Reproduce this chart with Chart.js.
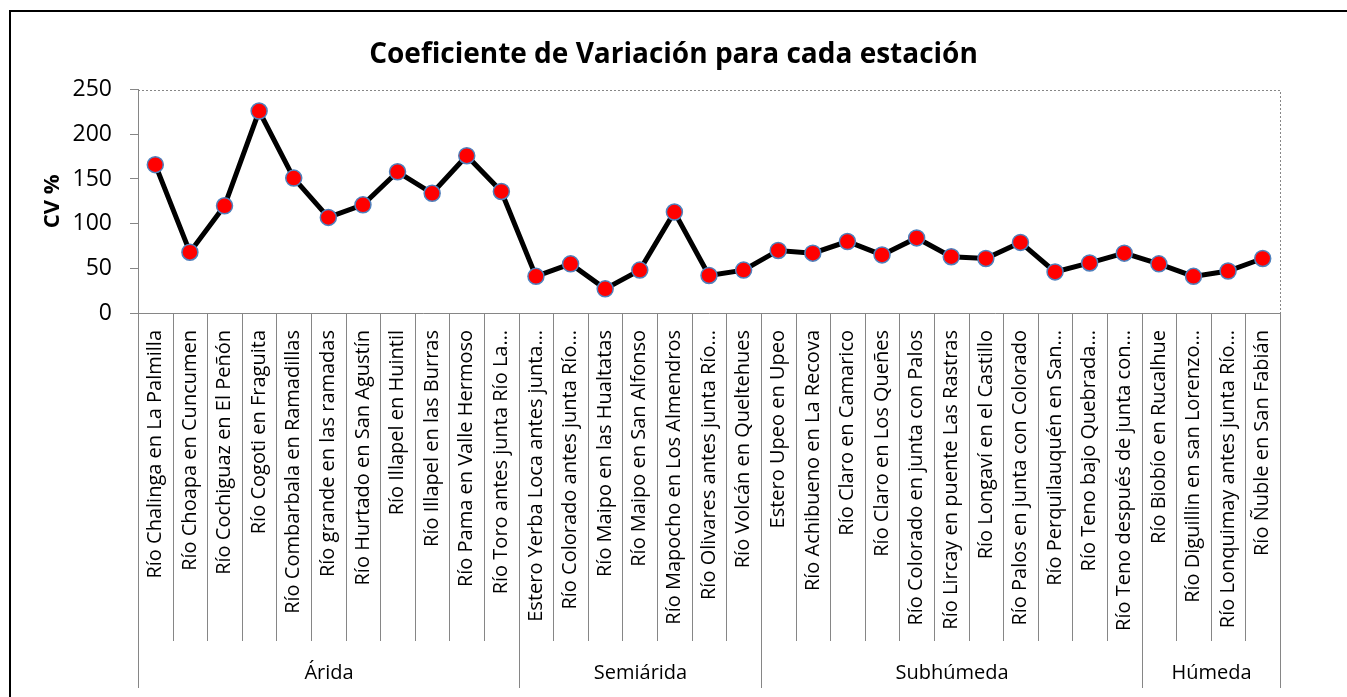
<!DOCTYPE html>
<html>
<head>
<meta charset="utf-8">
<script src="https://cdn.jsdelivr.net/npm/chart.js@4.4.1/dist/chart.umd.min.js"></script>
<style>
  body { margin: 0; background: #fff; }
  .chart-box { width: 1347px; height: 697px; position: relative; }
</style>
</head>
<body>
<div class="chart-box"><canvas id="cvChart"></canvas></div>
<script>
const stations = [
    'Río Chalinga en La Palmilla', 'Río Choapa en Cuncumen', 'Río Cochiguaz en El Peñón',
    'Río Cogoti en Fraguita', 'Río Combarbala en Ramadillas', 'Río grande en las ramadas',
    'Río Hurtado en San Agustín', 'Río Illapel en Huintil', 'Río Illapel en las Burras',
    'Río Pama en Valle Hermoso', 'Río Toro antes junta Río La…',
    'Estero Yerba Loca antes junta…', 'Río Colorado antes junta Río…', 'Río Maipo en las Hualtatas',
    'Río Maipo en San Alfonso', 'Río Mapocho en Los Almendros', 'Río Olivares antes junta Río…',
    'Río Volcán en Queltehues',
    'Estero Upeo en Upeo', 'Río Achibueno en La Recova', 'Río Claro en Camarico',
    'Río Claro en Los Queñes', 'Río Colorado en junta con Palos', 'Río Lircay en puente Las Rastras',
    'Río Longaví en el Castillo', 'Río Palos en junta con Colorado', 'Río Perquilauquén en San…',
    'Río Teno bajo Quebrada…', 'Río Teno después de junta con…',
    'Río Biobío en Rucalhue', 'Río Diguillin en san Lorenzo…', 'Río Lonquimay antes junta Río…',
    'Río Ñuble en San Fabián'
];

const cvValues = [
    166, 68, 120, 226, 151, 107, 121, 158, 134, 176, 136,
    41, 55, 27, 48, 113, 42, 48,
    70, 67, 80, 65, 84, 63, 61, 79, 46, 56, 67,
    55, 41, 47, 61
];

const groups = ['Árida', 'Semiárida', 'Subhúmeda', 'Húmeda'];
const groupSizes = [11, 7, 11, 4];

const yTicks = [0, 50, 100, 150, 200, 250];

const gray = '#868686';
const font = '"Open Sans", "DejaVu Sans", sans-serif';

// draws the frame, dotted plot border, category separators and the group row
const groupPlugin = {
    id: 'groupRow',
    beforeDraw(chart) {
        const {ctx} = chart;
        ctx.save();
        ctx.fillStyle = '#fff';
        ctx.fillRect(0, 0, chart.width, chart.height);
        ctx.strokeStyle = '#000';
        ctx.lineWidth = 2;
        ctx.strokeRect(10, 11, chart.width + 20, chart.height + 20);
        ctx.restore();
    },
    afterDraw(chart) {
        const {ctx, chartArea} = chart;
        const x = chart.scales.x;
        const n = stations.length;
        const step = x.getPixelForValue(1) - x.getPixelForValue(0);
        const edge = i => Math.round(x.getPixelForValue(i) - step / 2) + 0.5;
        const bottom = chartArea.bottom;

        ctx.save();
        ctx.strokeStyle = gray;
        ctx.lineWidth = 1;

        // dotted top and right border of the plot area
        ctx.setLineDash([2, 2]);
        ctx.beginPath();
        ctx.moveTo(chartArea.left, Math.round(chartArea.top) + 0.5);
        ctx.lineTo(Math.round(chartArea.right) + 0.5, Math.round(chartArea.top) + 0.5);
        ctx.lineTo(Math.round(chartArea.right) + 0.5, bottom);
        ctx.stroke();
        ctx.setLineDash([]);

        // separators between stations
        ctx.beginPath();
        for (let i = 0; i <= n; i++) {
            ctx.moveTo(edge(i), bottom);
            ctx.lineTo(edge(i), bottom + 328);
        }
        ctx.stroke();

        // group boundaries and labels
        ctx.fillStyle = '#000';
        ctx.font = '20px ' + font;
        ctx.textAlign = 'center';
        ctx.textBaseline = 'middle';
        let start = 0;
        ctx.beginPath();
        groups.forEach((g, k) => {
            const end = start + groupSizes[k];
            ctx.moveTo(edge(start), bottom);
            ctx.lineTo(edge(start), bottom + 375);
            ctx.fillText(g, (edge(start) + edge(end)) / 2, bottom + 360);
            start = end;
        });
        ctx.moveTo(edge(n), bottom);
        ctx.lineTo(edge(n), bottom + 375);
        ctx.stroke();
        ctx.restore();
    }
};

new Chart(document.getElementById('cvChart'), {
    type: 'line',
    data: {
        labels: stations,
        datasets: [{
            data: cvValues,
            borderColor: '#000',
            borderWidth: 5,
            pointRadius: 8,
            pointBackgroundColor: '#ff0000',
            pointBorderColor: '#4f81bd',
            pointBorderWidth: 1.5,
            tension: 0
        }]
    },
    options: {
        responsive: true,
        maintainAspectRatio: false,
        animation: false,
        layout: {
            padding: {left: 20, right: 20, top: 0, bottom: 9}
        },
        plugins: {
            legend: {display: false},
            tooltip: {enabled: false},
            title: {
                display: true,
                text: 'Coeficiente de Variación para cada estación',
                color: '#000',
                font: {family: font, size: 28, weight: 'bold', lineHeight: 1.2},
                padding: {top: 38, bottom: 18}
            }
        },
        scales: {
            x: {
                offset: true,
                grid: {display: false, drawTicks: false},
                border: {color: gray, width: 1},
                ticks: {
                    autoSkip: false,
                    minRotation: 90,
                    maxRotation: 90,
                    padding: 17,
                    color: '#000',
                    font: {family: font, size: 20}
                },
                afterFit(scale) { scale.height = 375; }
            },
            y: {
                min: 0,
                max: 250,
                afterBuildTicks(scale) { scale.ticks = yTicks.map(v => ({value: v})); },
                grid: {drawOnChartArea: false, drawTicks: true, tickLength: 8, color: gray},
                border: {color: gray, width: 1},
                ticks: {
                    padding: 18,
                    color: '#000',
                    font: {family: font, size: 23}
                },
                title: {
                    display: true,
                    text: 'CV %',
                    color: '#000',
                    font: {family: font, size: 22, weight: 'bold', lineHeight: 1.2},
                    padding: {top: 20, bottom: 0}
                },
                afterFit(scale) { scale.width = 118; }
            },
            // empty right-hand spacer so the plot ends where the original does
            spacer: {
                position: 'right',
                min: 0,
                max: 250,
                grid: {display: false},
                border: {display: false},
                ticks: {display: false},
                afterFit(scale) { scale.width = 47; }
            }
        }
    },
    plugins: [groupPlugin]
});
</script>
</body>
</html>
